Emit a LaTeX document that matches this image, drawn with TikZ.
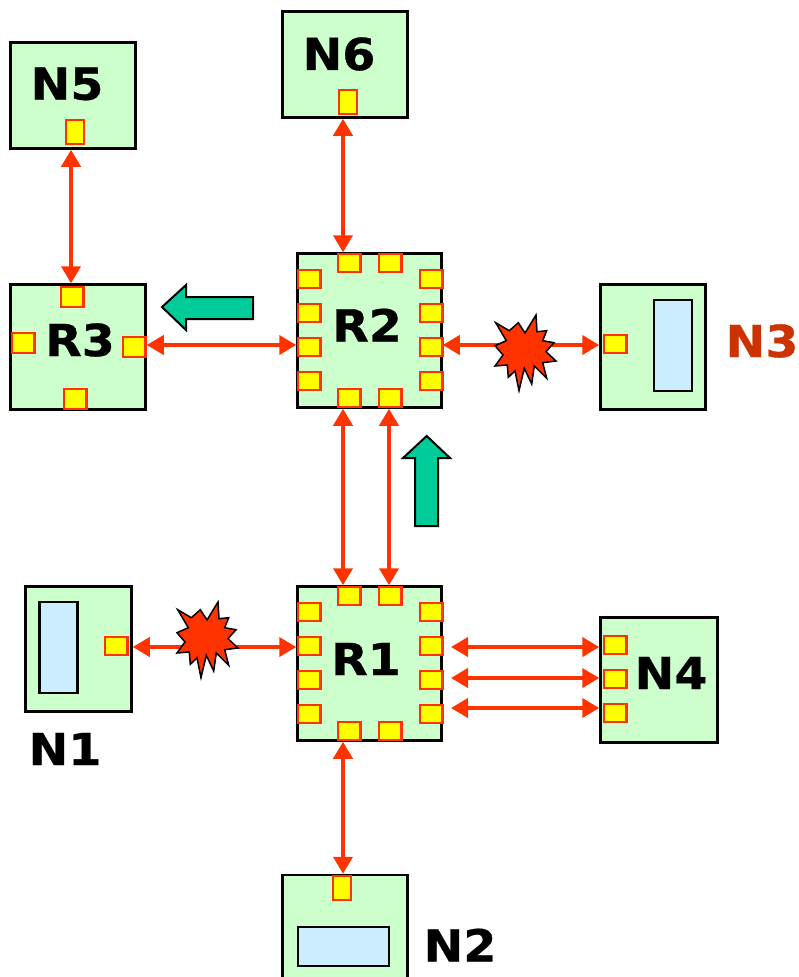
\documentclass[tikz,border=0pt]{standalone}
\usepackage{fontspec}
\setmainfont{DejaVu Sans}[BoldFeatures={FakeStretch=1.08,FakeBold=0.8}]
\usepackage{tikz}
\usepackage{xcolor}
\usetikzlibrary{arrows.meta}
\definecolor{BoxGreen}{HTML}{CCFFCC}
\definecolor{PortYellow}{HTML}{FFFF00}
\definecolor{LinkRed}{HTML}{FF3300}
\definecolor{BufBlue}{HTML}{CCECFF}
\definecolor{MoveGreen}{HTML}{00CC99}
\definecolor{LabelRed}{HTML}{CC3300}
\tikzset{
    nodebox/.style={draw=black, line width=2.5pt, fill=BoxGreen, inner sep=0pt, minimum width=#1},
    buffer/.style={draw=black, line width=2.5pt, fill=BufBlue},
    wide/.style={draw=LinkRed, line width=2.5pt, fill=PortYellow, inner sep=0pt, minimum width=22.5pt, minimum height=18pt},
    tall/.style={draw=LinkRed, line width=2.5pt, fill=PortYellow, inner sep=0pt, minimum width=18pt, minimum height=24pt},
    link/.style={{Triangle[length=17pt,width=19pt]}-{Triangle[length=17pt,width=19pt]}, line width=4pt, LinkRed},
    tag/.style={font=\bfseries\fontsize{44}{44}\selectfont, inner sep=0pt},
    move/.style={draw=black, line width=2pt, fill=MoveGreen},
    burst/.style={draw=black, line width=1.5pt, fill=LinkRed, line join=miter}
}
\newcommand{\burstat}[1]{%
    \draw[burst, shift={(#1)}] (-29.3,-27.3) -- (-15.7,-19.3) -- (-6.7,-27.3) -- (0,-17) -- (11,-35) -- (12,-18.3) -- (21.7,-19.3) -- (17.7,-9.3) -- (29,-7.3) -- (21,1.7) -- (31,11) -- (17.7,12.7) -- (21.7,28.3) -- (9.3,16) -- (6.7,34) -- (-0.7,18.3) -- (-6,40.7) -- (-10,21) -- (-16.7,27.3) -- (-17.7,15) -- (-30,16) -- (-22,5) -- (-30,-4.3) -- (-18.7,-9.3) -- cycle;}

\begin{document}
\begin{tikzpicture}[x=1pt, y=-1pt]
    \clip (0,0) rectangle (799,977);

    % Routers
    \node[nodebox=144pt, minimum height=154pt] (r2) at (369.5,330.5) {};
    \node[nodebox=144pt, minimum height=154pt] (r1) at (369.5,663.5) {};
    \node[nodebox=135pt, minimum height=125pt] (r3) at (78,347) {};

    % End nodes
    \node[nodebox=125pt, minimum height=106pt] (n5) at (73,95.5) {};
    \node[nodebox=125pt, minimum height=106pt] (n6) at (345,64.5) {};
    \node[nodebox=105pt, minimum height=125pt] (n3) at (653,347) {};
    \node[nodebox=106pt, minimum height=125pt] (n1) at (78.5,649) {};
    \node[nodebox=117pt, minimum height=125pt] (n4) at (659,680) {};
    \node[nodebox=125pt, minimum height=140pt] (n2) at (345,945) {};

    % Buffers inside N3, N1, N2
    \node[buffer, minimum width=38pt, minimum height=91pt] (n3buf) at (673,345.5) {};
    \node[buffer, minimum width=38pt, minimum height=91pt] (n1buf) at (58.5,647.5) {};
    \node[buffer, minimum width=91pt, minimum height=39pt] (n2buf) at (343.5,946.5) {};

    % Ports of the two routers
    \foreach \r/\dy in {r2/0, r1/333} {
        \foreach \i/\y in {1/279, 2/313, 3/347, 4/381} {
            \node[wide] (\r w\i) at (309,\y+\dy) {};
            \node[wide] (\r e\i) at (431,\y+\dy) {};
        }
        \foreach \i/\x in {1/349, 2/390} {
            \node[wide] (\r t\i) at (\x,263+\dy) {};
            \node[wide] (\r b\i) at (\x,398+\dy) {};
        }
    }

    % Ports of R3
    \node[wide, minimum height=20pt] (r3t) at (72,297) {};
    \node[wide, minimum height=20pt] (r3w) at (23,343) {};
    \node[wide, minimum height=20pt] (r3e) at (134,347) {};
    \node[wide, minimum height=20pt] (r3b) at (75,399) {};

    % Ports of the end nodes
    \node[tall] (n5p) at (75,132) {};
    \node[tall] (n6p) at (348,102) {};
    \node[wide] (n3p) at (615,344) {};
    \node[wide] (n1p) at (116,646) {};
    \node[wide] (n4p1) at (615,645) {};
    \node[wide] (n4p2) at (615,679) {};
    \node[wide] (n4p3) at (615,713) {};
    \node[tall] (n2p) at (342,888) {};

    % Tracks the links run on
    \coordinate (lane5) at (71,0);
    \coordinate (lane1) at (343,0);
    \coordinate (lane2) at (389,0);
    \coordinate (row2) at (0,345);
    \coordinate (row1) at (0,647);
    \coordinate (e1) at (451,647);
    \coordinate (e2) at (451,678);
    \coordinate (e3) at (451,708);

    % Links
    \draw[link] (n5.south -| lane5) -- (r3.north -| lane5);
    \draw[link] (n6.south -| lane1) -- (r2.north -| lane1);
    \draw[link] (r3.east |- row2) -- (r2.west |- row2);
    \draw[link] (r2.east |- row2) -- (n3.west |- row2);
    \draw[link] (r2.south -| lane1) -- (r1.north -| lane1);
    \draw[link] (r2.south -| lane2) -- (r1.north -| lane2);
    \draw[link] (n1.east |- row1) -- (r1.west |- row1);
    \draw[link] (e1) -- (n4.west |- e1);
    \draw[link] (e2) -- (n4.west |- e2);
    \draw[link] (e3) -- (n4.west |- e3);
    \draw[link] (r1.south -| lane1) -- (n2.north -| lane1);

    % Failed links
    \burstat{525,350}
    \burstat{207,637}

    % Movement arrows
    \draw[move] (162,307) -- (186,285) -- (186,297) -- (253,297) -- (253,319) -- (186,319) -- (186,330) -- cycle;
    \draw[move] (426.7,436) -- (450,458) -- (438,458) -- (438,526) -- (415,526) -- (415,458) -- (403,458) -- cycle;

    % Labels
    \node[tag] (l5) at (67,84) {N5};
    \node[tag] (l6) at (339,54) {N6};
    \node[tag] (lr3) at (80,340) {R3};
    \node[tag] (lr2) at (367,325) {R2};
    \node[tag] (lr1) at (366,659) {R1};
    \node[tag] (l4) at (671,673) {N4};
    \node[tag, LabelRed] (l3) at (762,341) {N3};
    \node[tag] (l1) at (65,749) {N1};
    \node[tag] (l2) at (460,945) {N2};
\end{tikzpicture}
\end{document}
